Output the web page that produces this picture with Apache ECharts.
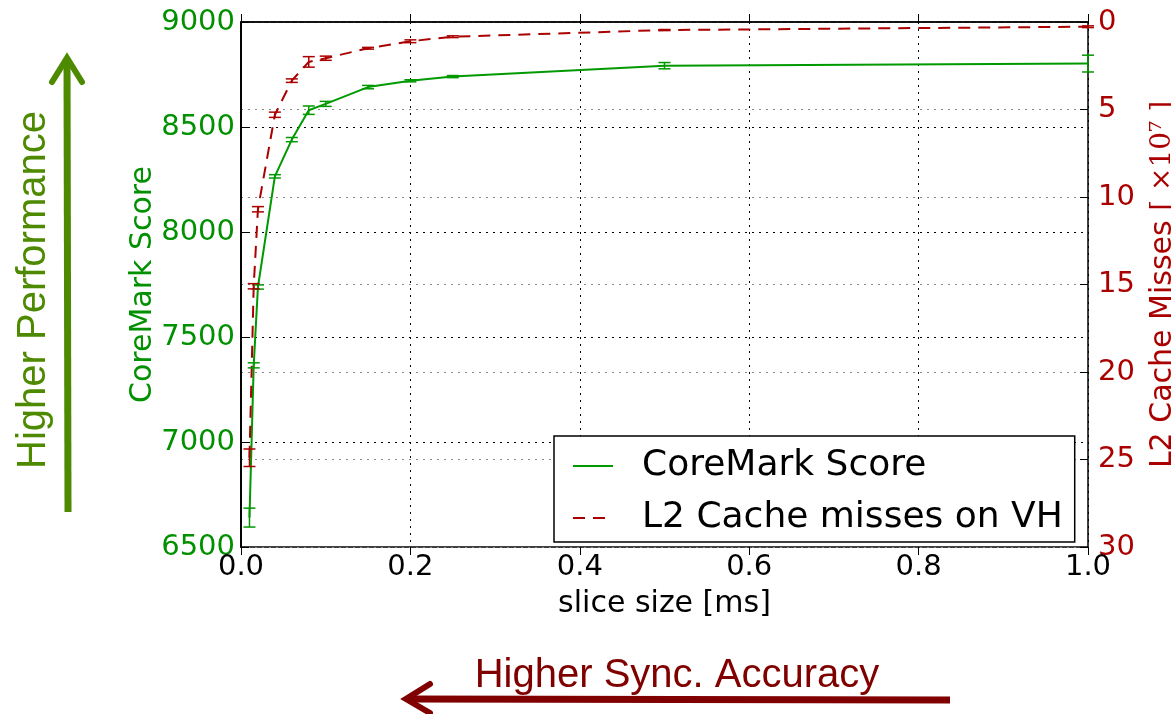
<!DOCTYPE html>
<html>
<head>
<meta charset="utf-8">
<script src="https://cdn.jsdelivr.net/npm/echarts@6/dist/echarts.min.js"></script>
<style>html,body{margin:0;padding:0;background:#fff;}#c{width:1171px;height:714px;}</style>
</head>
<body>
<div id="c"></div>
<script>
// slice sizes [ms]
const sliceSize = [0.01, 0.015, 0.02, 0.04, 0.06, 0.08, 0.1, 0.15, 0.2, 0.25, 0.5, 1.0];
// CoreMark score and its error
const coreMark = [6640, 7365, 7738, 8265, 8440, 8580, 8610, 8690, 8720, 8740, 8792, 8802];
const coreMarkErr = [45, 12, 10, 8, 10, 20, 12, 8, 5, 5, 15, 40];
// L2 cache misses on VH [x10^7] and its error
const l2Misses = [24.9, 15.1, 10.7, 5.3, 3.35, 2.28, 2.07, 1.5, 1.1, 0.84, 0.46, 0.27];
const l2MissesErr = [0.5, 0.15, 0.15, 0.15, 0.1, 0.3, 0.12, 0.05, 0.08, 0.05, 0.03, 0.05];
const seriesNames = ['CoreMark Score', 'L2 Cache misses on VH'];

const GREEN = '#009900';
const GREEN_LBL = '#009000';
const RED = '#aa0000';
const FONT = 'DejaVu Sans';

function errRender(color) {
  return function (params, api) {
    const x = api.value(0), y = api.value(1), e = api.value(2);
    const p1 = api.coord([x, y - e]);
    const p2 = api.coord([x, y + e]);
    const hw = 6;
    const st = { stroke: color, lineWidth: 1.5 };
    return {
      type: 'group',
      children: [
        { type: 'line', shape: { x1: p1[0], y1: p1[1], x2: p2[0], y2: p2[1] }, style: st },
        { type: 'line', shape: { x1: p1[0] - hw, y1: p1[1], x2: p1[0] + hw, y2: p1[1] }, style: st },
        { type: 'line', shape: { x1: p2[0] - hw, y1: p2[1], x2: p2[0] + hw, y2: p2[1] }, style: st }
      ]
    };
  };
}

const chart = echarts.init(document.getElementById('c'), null, { renderer: 'canvas' });
const option = {
  backgroundColor: '#fff',
  animation: false,
  grid: { left: 241, right: 83, top: 22, bottom: 167, containLabel: false, outerBoundsMode: 'none',
    show: true, borderColor: '#000', borderWidth: 1.5, backgroundColor: 'transparent' },
  legend: {
    data: seriesNames,
    orient: 'vertical',
    left: 554, top: 436,
    backgroundColor: '#fff',
    borderColor: '#000', borderWidth: 1.5,
    padding: [12, 12, 6, 18],
    itemGap: 16,
    itemWidth: 40, itemHeight: 14,
    itemStyle: { opacity: 0 },
    textStyle: { fontFamily: FONT, fontSize: 36, color: '#000', padding: [0, 0, 0, 24] }
  },
  xAxis: [{
    type: 'value', min: 0, max: 1, interval: 0.2,
    name: 'slice size [ms]', nameLocation: 'middle', nameGap: 42, nameMoveOverlap: false,
    nameTextStyle: { fontFamily: FONT, fontSize: 30, color: '#000' },
    axisLine: { show: true, lineStyle: { color: '#000', width: 1.5 } },
    axisTick: { show: true, inside: true, length: 8, lineStyle: { color: '#000' } },
    axisLabel: { fontFamily: FONT, fontSize: 29, color: '#000', margin: 6, formatter: v => v.toFixed(1) },
    splitLine: { show: true, lineStyle: { color: '#000', type: [2, 5], width: 1 } }
  }, {
    type: 'value', min: 0, max: 1, interval: 0.2, position: 'top',
    axisLine: { show: false },
    axisTick: { show: true, inside: true, length: 8, lineStyle: { color: '#000' } },
    axisLabel: { show: false }, splitLine: { show: false }
  }],
  yAxis: [{
    type: 'value', min: 6500, max: 9000, interval: 500,
    name: 'CoreMark Score', nameLocation: 'middle', nameGap: 83, nameRotate: 90, nameMoveOverlap: false,
    nameTextStyle: { fontFamily: FONT, fontSize: 30, color: GREEN_LBL },
    axisLine: { show: true, lineStyle: { color: '#000', width: 1.5 } },
    axisTick: { show: true, inside: true, length: 8, lineStyle: { color: '#000' } },
    minorTick: { show: false },
    axisLabel: { fontFamily: FONT, fontSize: 29, color: GREEN_LBL, margin: 6, formatter: v => String(v) },
    splitLine: { show: true, lineStyle: { color: '#000', type: [2, 5], width: 1 } }
  }, {
    type: 'value', min: 0, max: 30, interval: 5, inverse: true, position: 'right',
    name: '{a|L2 Cache Misses }{b|[ ×10⁷ ]}', nameLocation: 'middle', nameGap: 60, nameRotate: 90, nameMoveOverlap: false,
    nameTextStyle: { rich: {
      a: { fontFamily: FONT, fontSize: 30, color: RED },
      b: { fontFamily: 'DejaVu Serif', fontSize: 28, color: RED }
    } },
    axisLine: { show: true, lineStyle: { color: '#000', width: 1.5 } },
    axisTick: { show: false },
    minorTick: { show: false },
    axisLabel: { fontFamily: FONT, fontSize: 29, color: RED, margin: 10, formatter: v => String(v) },
    splitLine: { show: true, lineStyle: { color: '#888', type: [2, 5], width: 1 } }
  }, {
    type: 'value', min: 0, max: 30, interval: 5, position: 'right',
    axisLine: { show: false },
    axisTick: { show: true, inside: true, length: 8, lineStyle: { color: '#000' } },
    axisLabel: { show: false }, splitLine: { show: false }
  }],
  series: [{
    name: seriesNames[0], type: 'line', xAxisIndex: 0, yAxisIndex: 0,
    data: sliceSize.map((x, i) => [x, coreMark[i]]),
    symbol: 'none', lineStyle: { color: GREEN, width: 2 }, itemStyle: { color: GREEN }, z: 3
  }, {
    name: seriesNames[1], type: 'line', xAxisIndex: 0, yAxisIndex: 1,
    data: sliceSize.map((x, i) => [x, l2Misses[i]]),
    symbol: 'none', lineStyle: { color: RED, width: 2, type: [12, 8] }, itemStyle: { color: RED }, z: 3
  }, {
    name: 'err0', type: 'custom', xAxisIndex: 0, yAxisIndex: 0,
    data: sliceSize.map((x, i) => [x, coreMark[i], coreMarkErr[i]]),
    renderItem: errRender(GREEN), z: 4
  }, {
    name: 'err1', type: 'custom', xAxisIndex: 0, yAxisIndex: 1,
    data: sliceSize.map((x, i) => [x, l2Misses[i], l2MissesErr[i]]),
    renderItem: errRender(RED), z: 4
  }],
  graphic: [
    { type: 'text', x: 34, y: 290, rotation: Math.PI / 2,
      style: { text: 'Higher Performance', font: '40px "Liberation Sans"', fill: '#4e8a00', align: 'center', verticalAlign: 'middle' } },
    { type: 'line', shape: { x1: 68, y1: 512, x2: 67, y2: 58 }, style: { stroke: '#4e8a00', lineWidth: 7 } },
    { type: 'polyline', shape: { points: [[52, 82], [67, 58], [82, 82]] }, style: { stroke: '#4e8a00', lineWidth: 6, fill: null, lineCap: 'round', lineJoin: 'miter' } },
    { type: 'text', x: 677, y: 676,
      style: { text: 'Higher Sync. Accuracy', font: '40px "Liberation Sans"', fill: '#800000', align: 'center', verticalAlign: 'middle' } },
    { type: 'line', shape: { x1: 950, y1: 700, x2: 408, y2: 699 }, style: { stroke: '#800000', lineWidth: 7 } },
    { type: 'polyline', shape: { points: [[430, 684], [406, 699], [430, 713]] }, style: { stroke: '#800000', lineWidth: 6, fill: null, lineCap: 'round', lineJoin: 'miter' } }
  ]
};
chart.setOption(option);
</script>
</body>
</html>
